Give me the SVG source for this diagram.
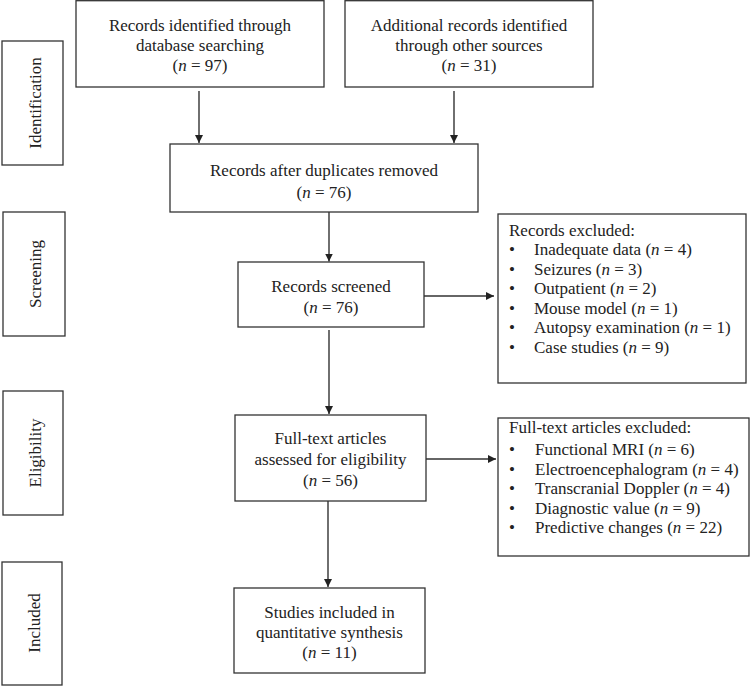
<svg xmlns="http://www.w3.org/2000/svg" width="751" height="686" viewBox="0 0 751 686">
<style>
.b{fill:#fff;stroke:#333;stroke-width:1.3}
text{font-family:"Liberation Serif","Times New Roman",serif;font-size:17px;fill:#222}
.c{text-anchor:middle}
.i{font-style:italic}
.l{stroke:#333;stroke-width:1.4;fill:none}
</style>
<defs>
<marker id="a" viewBox="0 0 10 10" refX="10" refY="5" markerWidth="8" markerHeight="8" markerUnits="userSpaceOnUse" orient="auto">
<path d="M0,0 L10,5 L0,10 z" fill="#222"/>
</marker>
</defs>
<rect width="751" height="686" fill="#fff"/>
<g id="phase-identification"><rect class="b" x="2" y="41" width="61" height="124"/><text class="c" transform="translate(41,103) rotate(-90)">Identification</text></g>
<g id="phase-screening"><rect class="b" x="3" y="212" width="62" height="124"/><text class="c" transform="translate(41,274) rotate(-90)">Screening</text></g>
<g id="phase-eligibility"><rect class="b" x="3" y="391" width="60" height="124"/><text class="c" transform="translate(41,453) rotate(-90)">Eligibility</text></g>
<g id="phase-included"><rect class="b" x="2" y="562" width="60" height="123"/><text class="c" transform="translate(40,623) rotate(-90)">Included</text></g>
<g id="db"><rect class="b" x="76" y="0.7" width="248" height="86.3"/>
<text class="c" x="200" y="31">Records identified through</text>
<text class="c" x="200" y="51">database searching</text>
<text class="c" x="200" y="71">(<tspan class="i">n</tspan> = 97)</text></g>
<g id="other"><rect class="b" x="345" y="0.7" width="248" height="86.3"/>
<text class="c" x="469" y="31">Additional records identified</text>
<text class="c" x="469" y="51">through other sources</text>
<text class="c" x="469" y="71">(<tspan class="i">n</tspan> = 31)</text></g>
<g id="dup"><rect class="b" x="170" y="144" width="308" height="68"/>
<text class="c" x="324" y="176">Records after duplicates removed</text>
<text class="c" x="324" y="198">(<tspan class="i">n</tspan> = 76)</text></g>
<g id="screened"><rect class="b" x="238" y="262" width="186" height="65"/>
<text class="c" x="331" y="292">Records screened</text>
<text class="c" x="331" y="313">(<tspan class="i">n</tspan> = 76)</text></g>
<g id="excluded"><rect class="b" x="498" y="214" width="248" height="169"/>
<text x="509" y="236">Records excluded:</text>
<text x="509" y="255">•</text><text x="534" y="255">Inadequate data (<tspan class="i">n</tspan> = 4)</text>
<text x="509" y="274.5">•</text><text x="534" y="274.5">Seizures (<tspan class="i">n</tspan> = 3)</text>
<text x="509" y="294">•</text><text x="534" y="294">Outpatient (<tspan class="i">n</tspan> = 2)</text>
<text x="509" y="313.5">•</text><text x="534" y="313.5">Mouse model (<tspan class="i">n</tspan> = 1)</text>
<text x="509" y="333">•</text><text x="534" y="333">Autopsy examination (<tspan class="i">n</tspan> = 1)</text>
<text x="509" y="352.5">•</text><text x="534" y="352.5">Case studies (<tspan class="i">n</tspan> = 9)</text></g>
<g id="fulltext"><rect class="b" x="235" y="415" width="191" height="86"/>
<text class="c" x="330.5" y="444">Full-text articles</text>
<text class="c" x="330.5" y="465">assessed for eligibility</text>
<text class="c" x="330.5" y="486">(<tspan class="i">n</tspan> = 56)</text></g>
<g id="ftexcluded"><rect class="b" x="498" y="418" width="251" height="138"/>
<text x="509" y="433">Full-text articles excluded:</text>
<text x="509" y="455">•</text><text x="535" y="455">Functional MRI (<tspan class="i">n</tspan> = 6)</text>
<text x="509" y="474.5">•</text><text x="535" y="474.5">Electroencephalogram (<tspan class="i">n</tspan> = 4)</text>
<text x="509" y="494">•</text><text x="535" y="494">Transcranial Doppler (<tspan class="i">n</tspan> = 4)</text>
<text x="509" y="513.5">•</text><text x="535" y="513.5">Diagnostic value (<tspan class="i">n</tspan> = 9)</text>
<text x="509" y="533">•</text><text x="535" y="533">Predictive changes (<tspan class="i">n</tspan> = 22)</text></g>
<g id="included"><rect class="b" x="234" y="588" width="191" height="85"/>
<text class="c" x="329.5" y="618">Studies included in</text>
<text class="c" x="329.5" y="638">quantitative synthesis</text>
<text class="c" x="329.5" y="658">(<tspan class="i">n</tspan> = 11)</text></g>
<g id="connectors">
<line class="l" x1="199" y1="91" x2="199" y2="143" marker-end="url(#a)"/>
<line class="l" x1="454" y1="91" x2="454" y2="143" marker-end="url(#a)"/>
<line class="l" x1="329" y1="212" x2="329" y2="261.5" marker-end="url(#a)"/>
<line class="l" x1="424" y1="296" x2="494" y2="296" marker-end="url(#a)"/>
<line class="l" x1="329" y1="330" x2="329" y2="414" marker-end="url(#a)"/>
<line class="l" x1="426" y1="459" x2="496" y2="459" marker-end="url(#a)"/>
<line class="l" x1="328" y1="501" x2="328" y2="587" marker-end="url(#a)"/>
</g>
</svg>
